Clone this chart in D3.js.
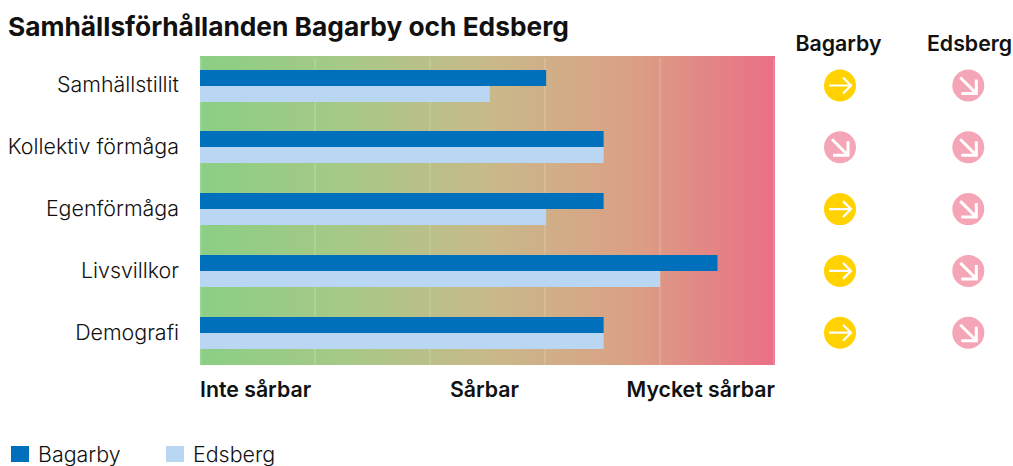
<!DOCTYPE html>
<html><head><meta charset="utf-8">
<script src="https://cdnjs.cloudflare.com/ajax/libs/d3/7.8.5/d3.min.js"></script>
<style>html,body{margin:0;padding:0;background:#fff}svg{display:block}text{font-family:Inter,"Noto Sans",sans-serif;fill:#111}</style>
</head><body><svg id="c" width="1013" height="466"></svg>
<script>
const title = "Samhällsförhållanden Bagarby och Edsberg";
const categories = ["Samhällstillit","Kollektiv förmåga","Egenförmåga","Livsvillkor","Demografi"];
const seriesNames = ["Bagarby","Edsberg"];
const bagarby = [3.01,3.51,3.51,4.5,3.51];
const edsberg = [2.52,3.51,3.01,4,3.51];
const trendBagarby = ["flat","down","flat","flat","flat"];
const trendEdsberg = ["down","down","down","down","down"];
const tickValues = [0,1,2,3,4,5];
const axisLabels = [{v:0,t:"Inte sårbar",a:"start"},{v:2.5,t:"Sårbar",a:"middle"},{v:5,t:"Mycket sårbar",a:"end"}];
const colors = {Bagarby:"#0070BC",Edsberg:"#B9D6F2"};

const svg = d3.select("#c");
const x = d3.scaleLinear().domain([0,5]).range([200,775]);
const y = d3.scaleBand().domain(categories).range([56,365]);
const bw = 16;
const cy = c => y(c)+y.bandwidth()/2-0.5;
const by = c => Math.round(cy(c)-0.9);

const grad = svg.append("defs").append("linearGradient").attr("id","g");
[[0,"#8BCE85"],[0.25,"#A6C987"],[0.5,"#C8B98A"],[0.75,"#DBA085"],[1,"#EA6F86"]]
 .forEach(([o,c])=>grad.append("stop").attr("offset",o).attr("stop-color",c));
svg.append("rect").attr("x",x(0)).attr("y",56).attr("width",x(5)-x(0)).attr("height",309).attr("fill","url(#g)");

svg.selectAll(".grid").data(tickValues).join("line")
 .attr("x1",d=>x(d)+(d==0?1:d==5?-1:0)).attr("x2",d=>x(d)+(d==0?1:d==5?-1:0))
 .attr("y1",58).attr("y2",365).attr("stroke","#fff").attr("stroke-opacity",0.28).attr("stroke-width",1);

svg.selectAll(".b1").data(categories).join("rect")
 .attr("x",x(0)).attr("y",c=>by(c)-bw).attr("height",bw)
 .attr("width",(c,i)=>x(bagarby[i])-x(0)).attr("fill",colors.Bagarby);
svg.selectAll(".b2").data(categories).join("rect")
 .attr("x",x(0)).attr("y",c=>by(c)).attr("height",bw)
 .attr("width",(c,i)=>x(edsberg[i])-x(0)).attr("fill",colors.Edsberg);

svg.append("text").attr("x",8).attr("y",36).attr("font-size",26.3).attr("font-weight",700).text(title);

svg.selectAll(".cat").data(categories).join("text")
 .attr("x",179).attr("y",c=>cy(c)+6).attr("text-anchor","end")
 .attr("font-size",21.4).style("font-weight",300).text(c=>c);

svg.selectAll(".ax").data(axisLabels).join("text")
 .attr("x",d=>x(d.v)+(d.a=="middle"?-3:0)).attr("y",397).attr("text-anchor",d=>d.a)
 .attr("font-size",21.3).attr("font-weight",600).text(d=>d.t);

const colX = {Bagarby:840,Edsberg:968.3};
const hdX = {Bagarby:838.5,Edsberg:969.5};
svg.selectAll(".hd").data(seriesNames).join("text")
 .attr("x",d=>hdX[d]).attr("y",51).attr("text-anchor","middle")
 .attr("font-size",21.3).attr("font-weight",600).text(d=>d);

function icon(cx,c,trend){
  const g = svg.append("g").attr("transform",`translate(${cx},${cy(c)-0.9})`);
  g.append("circle").attr("r",16).attr("fill",trend=="flat"?"#FFD200":"#F4A6B6");
  const p = g.append("path").attr("fill","none").attr("stroke","#fff").attr("stroke-width",2.2);
  if(trend=="flat") p.attr("d","M-11,0H10M3,-8L11,0L3,8");
  else p.attr("d","M-8,-8L7,7M8,-6V8H-7").attr("stroke-width",3);
}
categories.forEach((c,i)=>{icon(colX.Bagarby,c,trendBagarby[i]);icon(colX.Edsberg,c,trendEdsberg[i]);});

const lx = {Bagarby:11,Edsberg:166};
seriesNames.forEach(s=>{
  svg.append("rect").attr("x",lx[s]).attr("y",446).attr("width",18).attr("height",16).attr("fill",colors[s]);
  svg.append("text").attr("x",lx[s]+27).attr("y",462).attr("font-size",21.4).style("font-weight",300).text(s);
});
</script></body></html>
